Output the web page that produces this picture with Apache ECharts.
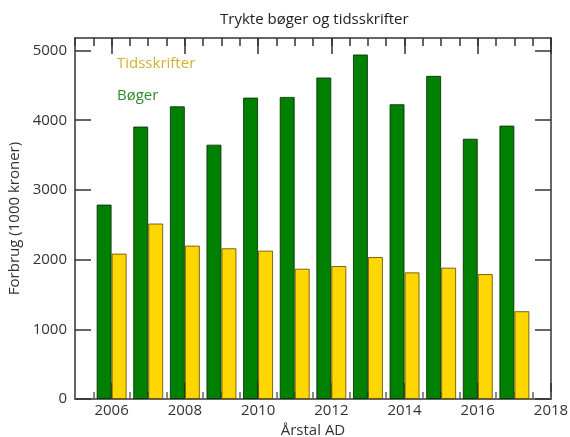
<!DOCTYPE html>
<html>
<head>
<meta charset="utf-8">
<script src="https://cdn.jsdelivr.net/npm/echarts@6/dist/echarts.min.js"></script>
<style>html,body{margin:0;padding:0;background:#fff}#c{width:570px;height:437px}</style>
</head>
<body>
<div id="c"></div>
<script>
const years = [2006,2007,2008,2009,2010,2011,2012,2013,2014,2015,2016,2017];
const boger = [2790,3910,4200,3650,4325,4335,4613,4944,4230,4637,3735,3923];
const tidsskrifter = [2086,2518,2201,2163,2129,1870,1908,2037,1817,1885,1793,1260];
const xMajorTicks = [2006,2008,2010,2012,2014,2016,2018];
const yTicks = [0,1000,2000,3000,4000,5000];

const FONT = '"Open Sans", "Liberation Sans", sans-serif';
const AX = '#333';
const FS = 15;
const chart = echarts.init(document.getElementById('c'), null, {renderer:'canvas'});

const gridPos = {left:75, right:19, top:38, bottom:38, containLabel:false, outerBoundsMode:'none'};

function xAxisBase(grid, pos, opts) {
  return Object.assign({
    type:'value', min:2005, max:2018, position:pos, gridIndex:grid,
    axisLine:{show:grid === 0, onZero:false, lineStyle:{color:AX, width:1.5}},
    splitLine:{show:false},
    axisLabel:{show:false},
    axisTick:{show:false}
  }, opts);
}
function yAxisBase(grid, pos, opts) {
  return Object.assign({
    type:'value', min:0, max:5180, position:pos, gridIndex:grid,
    axisLine:{show:grid === 0, onZero:false, lineStyle:{color:AX, width:1.5}},
    splitLine:{show:false},
    axisLabel:{show:false},
    axisTick:{show:false}
  }, opts);
}

chart.setOption({
  animation:false,
  title:{text:'Trykte bøger og tidsskrifter', left:215, top:7,
    textStyle:{fontFamily:FONT, fontSize:FS, fontWeight:'normal', color:'#222'}},
  legend:{
    orient:'vertical', left:107, top:51, itemWidth:0, itemHeight:0, itemGap:17,
    textStyle:{fontFamily:FONT, fontSize:FS},
    selectedMode:false,
    data:[
      {name:'Tidsskrifter', icon:'none', textStyle:{color:'#D2B230'}},
      {name:'Bøger', icon:'none', textStyle:{color:'#2F8A2F'}}
    ]
  },
  grid:[Object.assign({}, gridPos), Object.assign({}, gridPos)],
  xAxis:[
    xAxisBase(0, 'bottom', {
      name:'Årstal AD', nameLocation:'middle', nameGap:21,
      nameTextStyle:{fontFamily:FONT, fontSize:FS, color:'#333'},
      axisLabel:{show:true, customValues:xMajorTicks, margin:4, fontFamily:FONT, fontSize:FS, color:'#333',
        formatter:v=>String(v)},
      axisTick:{show:true, inside:true, length:16, customValues:xMajorTicks, lineStyle:{color:AX, width:1.5}}
    }),
    xAxisBase(0, 'top', {
      axisTick:{show:true, inside:true, length:16, customValues:xMajorTicks, lineStyle:{color:AX, width:1.5}}
    }),
    xAxisBase(1, 'bottom', {
      interval:0.5,
      axisTick:{show:true, inside:true, length:7, lineStyle:{color:'#666', width:1.5}}
    }),
    xAxisBase(1, 'top', {
      interval:0.5,
      axisTick:{show:true, inside:true, length:8, lineStyle:{color:AX, width:1.5}}
    })
  ],
  yAxis:[
    yAxisBase(0, 'left', {
      name:'Forbrug (1000 kroner)', nameLocation:'middle', nameGap:52, nameRotate:90,
      nameTextStyle:{fontFamily:FONT, fontSize:FS, color:'#333'},
      axisTick:{show:true, inside:true, length:16, customValues:yTicks, lineStyle:{color:AX, width:1.5}},
      axisLabel:{show:true, customValues:yTicks, margin:8, fontFamily:FONT, fontSize:FS, color:'#333',
        formatter:v=>String(v)}
    }),
    yAxisBase(0, 'right', {
      axisTick:{show:true, inside:true, length:16, customValues:yTicks, lineStyle:{color:AX, width:1.5}}
    }),
    yAxisBase(1, 'left', {})
  ],
  series:[
    {name:'Bøger', type:'bar', xAxisIndex:0, yAxisIndex:0, barWidth:15, barGap:'0%',
      itemStyle:{color:'#008000', borderColor:'rgba(0,40,0,0.8)', borderWidth:1},
      data: years.map((y,i)=>[y, boger[i]])},
    {name:'Tidsskrifter', type:'bar', xAxisIndex:0, yAxisIndex:0, barWidth:15, barGap:'0%',
      itemStyle:{color:'#FFD700', borderColor:'rgba(90,70,0,0.8)', borderWidth:1},
      data: years.map((y,i)=>[y, tidsskrifter[i]])}
  ]
});
</script>
</body>
</html>
